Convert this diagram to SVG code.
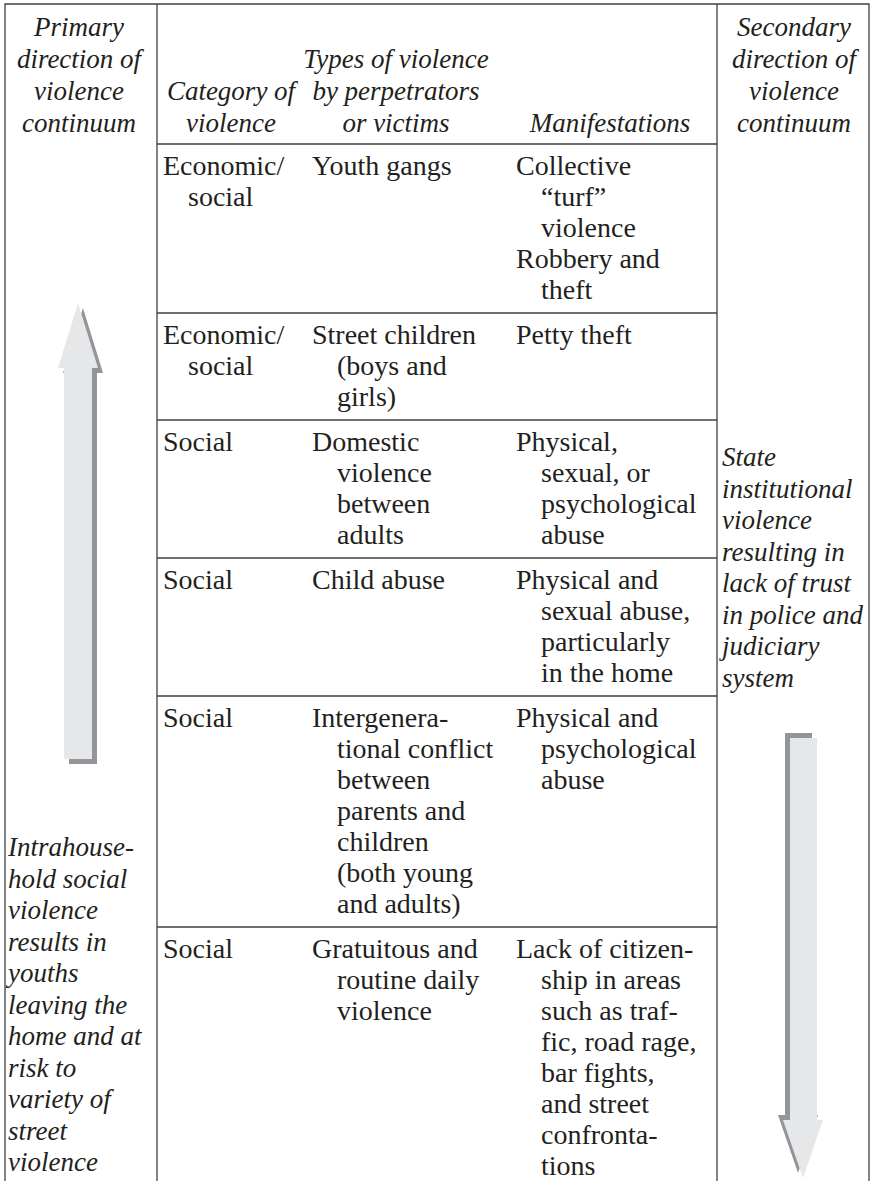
<svg xmlns="http://www.w3.org/2000/svg" width="870" height="1181" viewBox="0 0 870 1181">
<style>
.t{font-family:"Liberation Serif",serif;font-size:28px;fill:#231f20}
.i{font-style:italic;font-size:27px}
.c{text-anchor:middle}
.ln{stroke:#404040;stroke-width:1.3;fill:none}
.af{fill:#e6e7e8}
.as{fill:#939598}
</style>
<rect width="870" height="1181" fill="#ffffff"/>
<g id="grid">
<path class="ln" d="M5,1181 V4 H869 V1181 M157,4 V1181 M717,4 V1181 M157,144 H717 M157,313 H717 M157,420 H717 M157,558 H717 M157,696 H717 M157,927 H717"/>
</g>
<g id="header">
<text class="t i c"><tspan x="79" y="36">Primary</tspan><tspan x="79" y="68">direction of</tspan><tspan x="79" y="100">violence</tspan><tspan x="79" y="132">continuum</tspan></text>
<text class="t i c"><tspan x="231" y="100">Category of</tspan><tspan x="231" y="132">violence</tspan></text>
<text class="t i c"><tspan x="396" y="68">Types of violence</tspan><tspan x="396" y="100">by perpetrators</tspan><tspan x="396" y="132">or victims</tspan></text>
<text class="t i c"><tspan x="610" y="132">Manifestations</tspan></text>
<text class="t i c"><tspan x="794" y="36">Secondary</tspan><tspan x="794" y="68">direction of</tspan><tspan x="794" y="100">violence</tspan><tspan x="794" y="132">continuum</tspan></text>
</g>
<g id="row1">
<text class="t"><tspan x="163" y="175">Economic/</tspan><tspan x="188" y="206">social</tspan></text>
<text class="t"><tspan x="312" y="175">Youth gangs</tspan></text>
<text class="t"><tspan x="516" y="175">Collective</tspan><tspan x="541" y="206">“turf”</tspan><tspan x="541" y="237">violence</tspan><tspan x="516" y="268">Robbery and</tspan><tspan x="541" y="299">theft</tspan></text>
</g>
<g id="row2">
<text class="t"><tspan x="163" y="344">Economic/</tspan><tspan x="188" y="375">social</tspan></text>
<text class="t"><tspan x="312" y="344">Street children</tspan><tspan x="337" y="375">(boys and</tspan><tspan x="337" y="406">girls)</tspan></text>
<text class="t"><tspan x="516" y="344">Petty theft</tspan></text>
</g>
<g id="row3">
<text class="t"><tspan x="163" y="451">Social</tspan></text>
<text class="t"><tspan x="312" y="451">Domestic</tspan><tspan x="337" y="482">violence</tspan><tspan x="337" y="513">between</tspan><tspan x="337" y="544">adults</tspan></text>
<text class="t"><tspan x="516" y="451">Physical,</tspan><tspan x="541" y="482">sexual, or</tspan><tspan x="541" y="513">psychological</tspan><tspan x="541" y="544">abuse</tspan></text>
</g>
<g id="row4">
<text class="t"><tspan x="163" y="589">Social</tspan></text>
<text class="t"><tspan x="312" y="589">Child abuse</tspan></text>
<text class="t"><tspan x="516" y="589">Physical and</tspan><tspan x="541" y="620">sexual abuse,</tspan><tspan x="541" y="651">particularly</tspan><tspan x="541" y="682">in the home</tspan></text>
</g>
<g id="row5">
<text class="t"><tspan x="163" y="727">Social</tspan></text>
<text class="t"><tspan x="312" y="727">Intergenera-</tspan><tspan x="337" y="758">tional conflict</tspan><tspan x="337" y="789">between</tspan><tspan x="337" y="820">parents and</tspan><tspan x="337" y="851">children</tspan><tspan x="337" y="882">(both young</tspan><tspan x="337" y="913">and adults)</tspan></text>
<text class="t"><tspan x="516" y="727">Physical and</tspan><tspan x="541" y="758">psychological</tspan><tspan x="541" y="789">abuse</tspan></text>
</g>
<g id="row6">
<text class="t"><tspan x="163" y="958">Social</tspan></text>
<text class="t"><tspan x="312" y="958">Gratuitous and</tspan><tspan x="337" y="989">routine daily</tspan><tspan x="337" y="1020">violence</tspan></text>
<text class="t"><tspan x="516" y="958">Lack of citizen-</tspan><tspan x="541" y="989">ship in areas</tspan><tspan x="541" y="1020">such as traf-</tspan><tspan x="541" y="1051">fic, road rage,</tspan><tspan x="541" y="1082">bar fights,</tspan><tspan x="541" y="1113">and street</tspan><tspan x="541" y="1144">confronta-</tspan><tspan x="541" y="1175">tions</tspan></text>
</g>
<g id="primary-note">
<text class="t i"><tspan x="8" y="856">Intrahouse-</tspan><tspan x="8" y="887.5">hold social</tspan><tspan x="8" y="919">violence</tspan><tspan x="8" y="950.5">results in</tspan><tspan x="8" y="982">youths</tspan><tspan x="8" y="1013.5">leaving the</tspan><tspan x="8" y="1045">home and at</tspan><tspan x="8" y="1076.5">risk to</tspan><tspan x="8" y="1108">variety of</tspan><tspan x="8" y="1139.5">street</tspan><tspan x="8" y="1171">violence</tspan></text>
</g>
<g id="secondary-note">
<text class="t i"><tspan x="722" y="466">State</tspan><tspan x="722" y="497.5">institutional</tspan><tspan x="722" y="529">violence</tspan><tspan x="722" y="560.5">resulting in</tspan><tspan x="722" y="592">lack of trust</tspan><tspan x="722" y="623.5">in police and</tspan><tspan x="722" y="655">judiciary</tspan><tspan x="722" y="686.5">system</tspan></text>
</g>
<g id="connectors">
<g id="up-arrow">
<polygon class="as" points="83,308 103,373 97,373 97,764 69,764 69,373 63,373"/>
<polygon class="af" points="78,303 98,368 92,368 92,759 64,759 64,368 58,368"/>
</g>
<g id="down-arrow">
<polygon class="as" points="785,733 812,733 812,1115 818,1115 798,1173 778,1115 785,1115"/>
<polygon class="af" points="790,738 817,738 817,1120 823,1120 803,1178 783,1120 790,1120"/>
</g>
</g>
</svg>
